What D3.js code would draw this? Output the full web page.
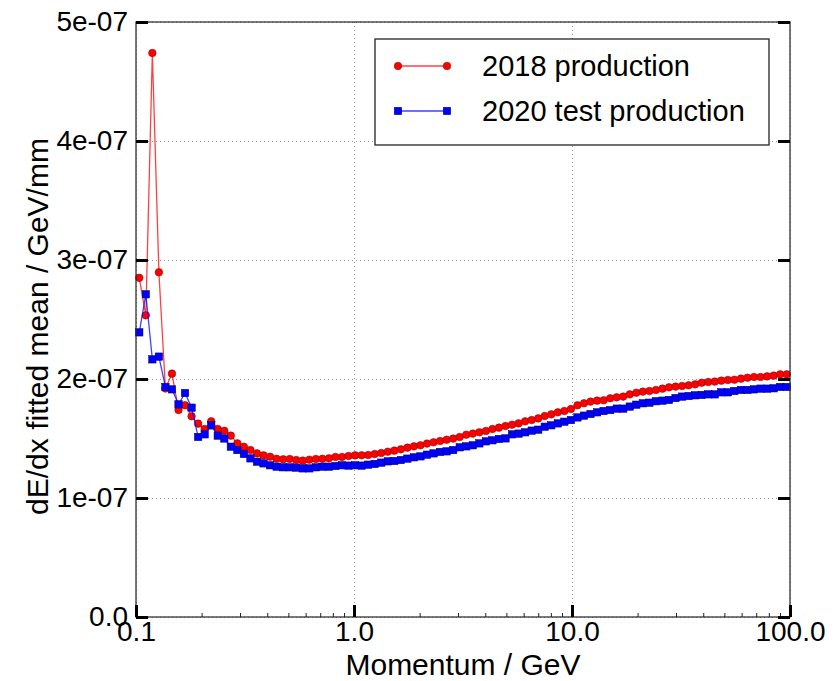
<!DOCTYPE html>
<html>
<head>
<meta charset="utf-8">
<script src="https://cdn.jsdelivr.net/npm/d3@7"></script>
<style>
  body { margin: 0; background: #fff; }
  svg text { font-family: "Liberation Sans", Arial, sans-serif; fill: #000; }
</style>
</head>
<body>
<div id="chart"></div>
<script>
// momentum bin centres (GeV)
var momentum = [
  0.10351, 0.11092, 0.11885, 0.12735, 0.13646, 0.14622, 0.15668, 0.16788, 0.17989, 0.19275,
  0.20654, 0.22131, 0.23714, 0.25410, 0.27227, 0.29174, 0.31261, 0.33497, 0.35892, 0.38459,
  0.41210, 0.44157, 0.47315, 0.50699, 0.54325, 0.58210, 0.62373, 0.66834, 0.71614, 0.76736,
  0.82224, 0.88105, 0.94406, 1.0116, 1.0839, 1.1614, 1.2445, 1.3335, 1.4289, 1.5311,
  1.6406, 1.7579, 1.8836, 2.0184, 2.1627, 2.3174, 2.4831, 2.6607, 2.8510, 3.0549,
  3.2734, 3.5075, 3.7584, 4.0272, 4.3152, 4.6238, 4.9545, 5.3088, 5.6885, 6.0954,
  6.5313, 6.9984, 7.4989, 8.0353, 8.6099, 9.2257, 9.8855, 10.593, 11.350, 12.162,
  13.032, 13.964, 14.962, 16.032, 17.179, 18.408, 19.724, 21.135, 22.646, 24.266,
  26.002, 27.861, 29.854, 31.989, 34.277, 36.728, 39.355, 42.170, 45.186, 48.417,
  51.880, 55.590, 59.566, 63.826, 68.391, 73.282, 78.524, 84.140, 90.157, 96.605
];

// fitted dE/dx mean, in units of 1e-7 GeV/mm
var dedx2018 = [
  2.850, 2.535, 4.740, 2.897, 1.920, 2.045, 1.740, 1.780, 1.687, 1.625,
  1.580, 1.645, 1.580, 1.565, 1.524, 1.459, 1.431, 1.403, 1.375, 1.358,
  1.347, 1.330, 1.325, 1.328, 1.319, 1.314, 1.322, 1.328, 1.330, 1.333,
  1.345, 1.345, 1.353, 1.358, 1.359, 1.361, 1.370, 1.378, 1.389, 1.398,
  1.409, 1.423, 1.434, 1.443, 1.457, 1.468, 1.479, 1.490, 1.499, 1.513,
  1.532, 1.541, 1.552, 1.563, 1.580, 1.591, 1.605, 1.616, 1.627, 1.644,
  1.655, 1.669, 1.689, 1.703, 1.720, 1.731, 1.748, 1.779, 1.796, 1.810,
  1.818, 1.821, 1.838, 1.846, 1.852, 1.871, 1.885, 1.894, 1.899, 1.908,
  1.919, 1.930, 1.936, 1.941, 1.947, 1.955, 1.969, 1.975, 1.978, 1.986,
  1.992, 1.994, 2.003, 2.011, 2.017, 2.017, 2.022, 2.028, 2.039, 2.039
];

var dedx2020 = [
  2.392, 2.712, 2.165, 2.188, 1.933, 1.913, 1.787, 1.882, 1.759, 1.513,
  1.535, 1.610, 1.524, 1.500, 1.431, 1.403, 1.370, 1.333, 1.305, 1.291,
  1.275, 1.263, 1.258, 1.258, 1.255, 1.249, 1.249, 1.258, 1.263, 1.263,
  1.269, 1.275, 1.272, 1.275, 1.272, 1.280, 1.286, 1.297, 1.308, 1.311,
  1.319, 1.331, 1.342, 1.350, 1.364, 1.375, 1.387, 1.392, 1.403, 1.426,
  1.434, 1.443, 1.459, 1.476, 1.485, 1.496, 1.501, 1.535, 1.541, 1.552,
  1.566, 1.574, 1.599, 1.611, 1.627, 1.641, 1.655, 1.677, 1.692, 1.706,
  1.720, 1.731, 1.739, 1.751, 1.751, 1.768, 1.784, 1.796, 1.801, 1.813,
  1.818, 1.824, 1.840, 1.852, 1.857, 1.863, 1.866, 1.871, 1.871, 1.888,
  1.888, 1.899, 1.908, 1.908, 1.913, 1.919, 1.919, 1.922, 1.933, 1.933
];

var seriesNames = ["2018 production", "2020 test production"];

var xTicks = [0.1, 1, 10, 100];
var xTickLabels = ["0.1", "1.0", "10.0", "100.0"];
var xMinorTicks = [0.2, 0.3, 0.4, 0.5, 0.6, 0.7, 0.8, 0.9, 2, 3, 4, 5, 6, 7, 8, 9, 20, 30, 40, 50, 60, 70, 80, 90];
var yTicks = [0, 1e-7, 2e-7, 3e-7, 4e-7, 5e-7];
var yTickLabels = ["0.0", "1e-07", "2e-07", "3e-07", "4e-07", "5e-07"];

var W = 836, H = 681;
var plotL = 136, plotR = 790, plotT = 22, plotB = 617;
var dotR = 3.8, sq = 7.4;

var svg = d3.select("#chart").append("svg")
  .attr("width", W)
  .attr("height", H);

var x = d3.scaleLog().domain([0.1, 100]).range([plotL, plotR]);
var y = d3.scaleLinear().domain([0, 5e-7]).range([plotB, plotT]);

// grid
var grid = svg.append("g").attr("class", "grid");
grid.selectAll(".gx")
  .data(xTicks)
  .enter().append("line")
  .attr("x1", function(d) { return Math.round(x(d)) + 0.5; })
  .attr("x2", function(d) { return Math.round(x(d)) + 0.5; })
  .attr("y1", plotT).attr("y2", plotB)
  .style("stroke", "#999").style("stroke-width", 1).style("stroke-dasharray", "1,3");
grid.selectAll(".gy")
  .data(yTicks)
  .enter().append("line")
  .attr("y1", function(d) { return Math.round(y(d)) + 0.5; })
  .attr("y2", function(d) { return Math.round(y(d)) + 0.5; })
  .attr("x1", plotL).attr("x2", plotR)
  .style("stroke", "#999").style("stroke-width", 1).style("stroke-dasharray", "1,3");

// series
var rows2018 = momentum.map(function(p, i) { return {p: p, v: dedx2018[i] * 1e-7}; });
var rows2020 = momentum.map(function(p, i) { return {p: p, v: dedx2020[i] * 1e-7}; });

var line = d3.line()
  .x(function(d) { return x(d.p); })
  .y(function(d) { return y(d.v); });

var plot = svg.append("g").attr("class", "plot");

plot.append("path")
  .datum(rows2018)
  .attr("d", line)
  .style("fill", "none")
  .style("stroke", "#ff0000")
  .style("stroke-opacity", 0.75)
  .style("stroke-width", 1.3);

plot.selectAll(".dot2018")
  .data(rows2018)
  .enter().append("circle")
  .attr("cx", function(d) { return x(d.p); })
  .attr("cy", function(d) { return y(d.v); })
  .attr("r", dotR)
  .style("fill", "#ff0000")
  .style("stroke", "#7a0000")
  .style("stroke-width", 0.5);

plot.append("path")
  .datum(rows2020)
  .attr("d", line)
  .style("fill", "none")
  .style("stroke", "#0000ff")
  .style("stroke-opacity", 0.75)
  .style("stroke-width", 1.3);

plot.selectAll(".sq2020")
  .data(rows2020)
  .enter().append("rect")
  .attr("x", function(d) { return x(d.p) - sq / 2; })
  .attr("y", function(d) { return y(d.v) - sq / 2; })
  .attr("width", sq).attr("height", sq)
  .style("fill", "#0000ff")
  .style("stroke", "#00005a")
  .style("stroke-width", 0.5);

// frame
svg.append("rect")
  .attr("x", plotL).attr("y", plotT)
  .attr("width", plotR - plotL).attr("height", plotB - plotT)
  .style("fill", "none").style("stroke", "#222").style("stroke-width", 1.2);

// axes, ticks point inward
var xAxis = svg.append("g")
  .attr("transform", "translate(0," + plotB + ")")
  .call(d3.axisBottom(x).tickValues(xTicks)
    .tickFormat(function(d, i) { return xTickLabels[i]; })
    .tickSizeInner(-12).tickSizeOuter(0).tickPadding(4));
xAxis.select(".domain").remove();
xAxis.selectAll(".tick line").style("stroke", "#000").style("stroke-width", 3);
xAxis.selectAll(".tick text").style("font-size", "28px");

var xMinor = svg.append("g")
  .attr("transform", "translate(0," + plotB + ")")
  .call(d3.axisBottom(x).tickValues(xMinorTicks).tickFormat("")
    .tickSizeInner(-4).tickSizeOuter(0));
xMinor.select(".domain").remove();
xMinor.selectAll(".tick line").style("stroke", "#222").style("stroke-width", 1);

var yAxis = svg.append("g")
  .attr("transform", "translate(" + plotL + ",0)")
  .call(d3.axisLeft(y).tickValues(yTicks)
    .tickFormat(function(d, i) { return yTickLabels[i]; })
    .tickSizeInner(-12).tickSizeOuter(0).tickPadding(8));
yAxis.select(".domain").remove();
yAxis.selectAll(".tick line").style("stroke", "#000").style("stroke-width", 3);
yAxis.selectAll(".tick text").style("font-size", "28px");

var yRight = svg.append("g")
  .attr("transform", "translate(" + plotR + ",0)")
  .call(d3.axisRight(y).tickValues(yTicks).tickFormat("")
    .tickSizeInner(-12).tickSizeOuter(0));
yRight.select(".domain").remove();
yRight.selectAll(".tick line").style("stroke", "#000").style("stroke-width", 3);

// axis titles
svg.append("text")
  .attr("x", (plotL + plotR) / 2)
  .attr("y", 675)
  .attr("text-anchor", "middle")
  .style("font-size", "30px")
  .text("Momentum / GeV");

svg.append("text")
  .attr("transform", "translate(48," + ((plotT + plotB) / 2 + 7) + ") rotate(-90)")
  .attr("text-anchor", "middle")
  .style("font-size", "30px")
  .text("dE/dx fitted mean / GeV/mm");

// legend
var legend = svg.append("g").attr("class", "legend");
legend.append("rect")
  .attr("x", 375).attr("y", 39)
  .attr("width", 394).attr("height", 106)
  .style("fill", "#fff").style("stroke", "#222").style("stroke-width", 1.3);

var legendRows = [
  {name: seriesNames[0], color: "#ff0000", edge: "#7a0000", shape: "circle", cy: 66},
  {name: seriesNames[1], color: "#0000ff", edge: "#00005a", shape: "square", cy: 111}
];
legendRows.forEach(function(r) {
  var g = legend.append("g");
  g.append("line")
    .attr("x1", 398).attr("x2", 447)
    .attr("y1", r.cy).attr("y2", r.cy)
    .style("stroke", r.color).style("stroke-opacity", 0.75).style("stroke-width", 1.3);
  [398, 447].forEach(function(cx) {
    if (r.shape === "circle") {
      g.append("circle").attr("cx", cx).attr("cy", r.cy).attr("r", dotR)
        .style("fill", r.color).style("stroke", r.edge).style("stroke-width", 0.5);
    } else {
      g.append("rect").attr("x", cx - sq / 2).attr("y", r.cy - sq / 2)
        .attr("width", sq).attr("height", sq)
        .style("fill", r.color).style("stroke", r.edge).style("stroke-width", 0.5);
    }
  });
  g.append("text")
    .attr("x", 482).attr("y", r.cy + 10)
    .style("font-size", "29px")
    .text(r.name);
});
</script>
</body>
</html>
